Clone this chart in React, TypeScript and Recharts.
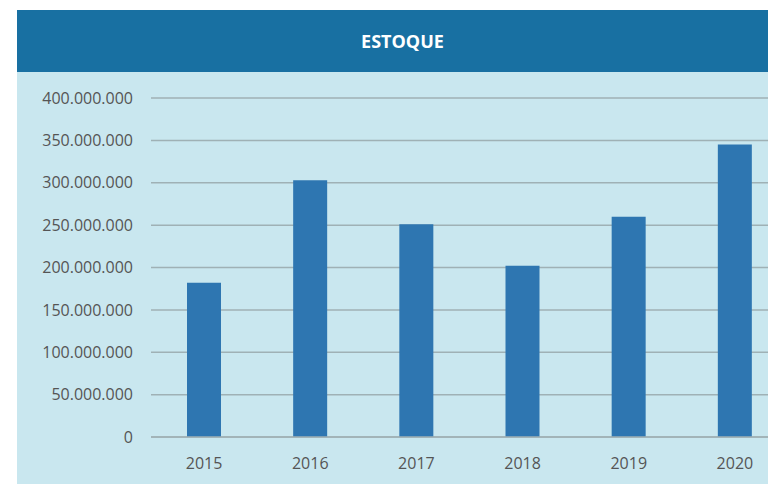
import { Bar, BarChart, CartesianGrid, XAxis, YAxis } from 'recharts';

const years = ['2015', '2016', '2017', '2018', '2019', '2020'];
const estoque = [182000000, 303000000, 251000000, 202000000, 260000000, 345000000];
const yTicks = [0, 50000000, 100000000, 150000000, 200000000, 250000000, 300000000, 350000000, 400000000];

const data = years.map((year, i) => ({ year, estoque: estoque[i] }));

const fmt = (v: number) => String(v).replace(/\B(?=(\d{3})+(?!\d))/g, '.');

const font = "'Open Sans', 'Liberation Sans', sans-serif";

export default function App() {
  return (
    <div style={{ position: 'fixed', left: 0, top: 0, width: 768, height: 484, overflow: 'hidden', background: '#fff', fontFamily: font }}>
      <div
        style={{
          position: 'absolute', left: 17, top: 10, width: 751, height: 62, background: '#1870a2', boxSizing: 'border-box',
          paddingLeft: 20, color: '#fff', fontWeight: 700, fontSize: 18, display: 'flex', alignItems: 'center', justifyContent: 'center',
        }}
      >
        ESTOQUE
      </div>
      <div style={{ position: 'absolute', left: 17, top: 72, width: 751, height: 412, background: '#c9e7ef' }} />
      <div style={{ position: 'absolute', left: 17, top: 72 }}>
        <BarChart width={790} height={412} data={data} margin={{ top: 26, right: 19, bottom: 15, left: 0 }}>
          <CartesianGrid vertical={false} stroke="#9fb1b5" strokeWidth={1.5} />
          <XAxis
            dataKey="year"
            axisLine={{ stroke: '#9fb1b5', strokeWidth: 1.5 }}
            tickLine={false}
            tickSize={0}
            tickMargin={21}
            height={32}
            tick={{ fill: '#555', fontSize: 16, fontFamily: font }}
          />
          <YAxis
            width={134}
            domain={[0, 400000000]}
            ticks={yTicks}
            tickFormatter={fmt}
            axisLine={false}
            tickLine={false}
            tickSize={0}
            tickMargin={18}
            tick={{ fill: '#555', fontSize: 16, fontFamily: font }}
          />
          <Bar dataKey="estoque" fill="#2e76b1" barSize={34} isAnimationActive={false} />
        </BarChart>
      </div>
    </div>
  );
}
